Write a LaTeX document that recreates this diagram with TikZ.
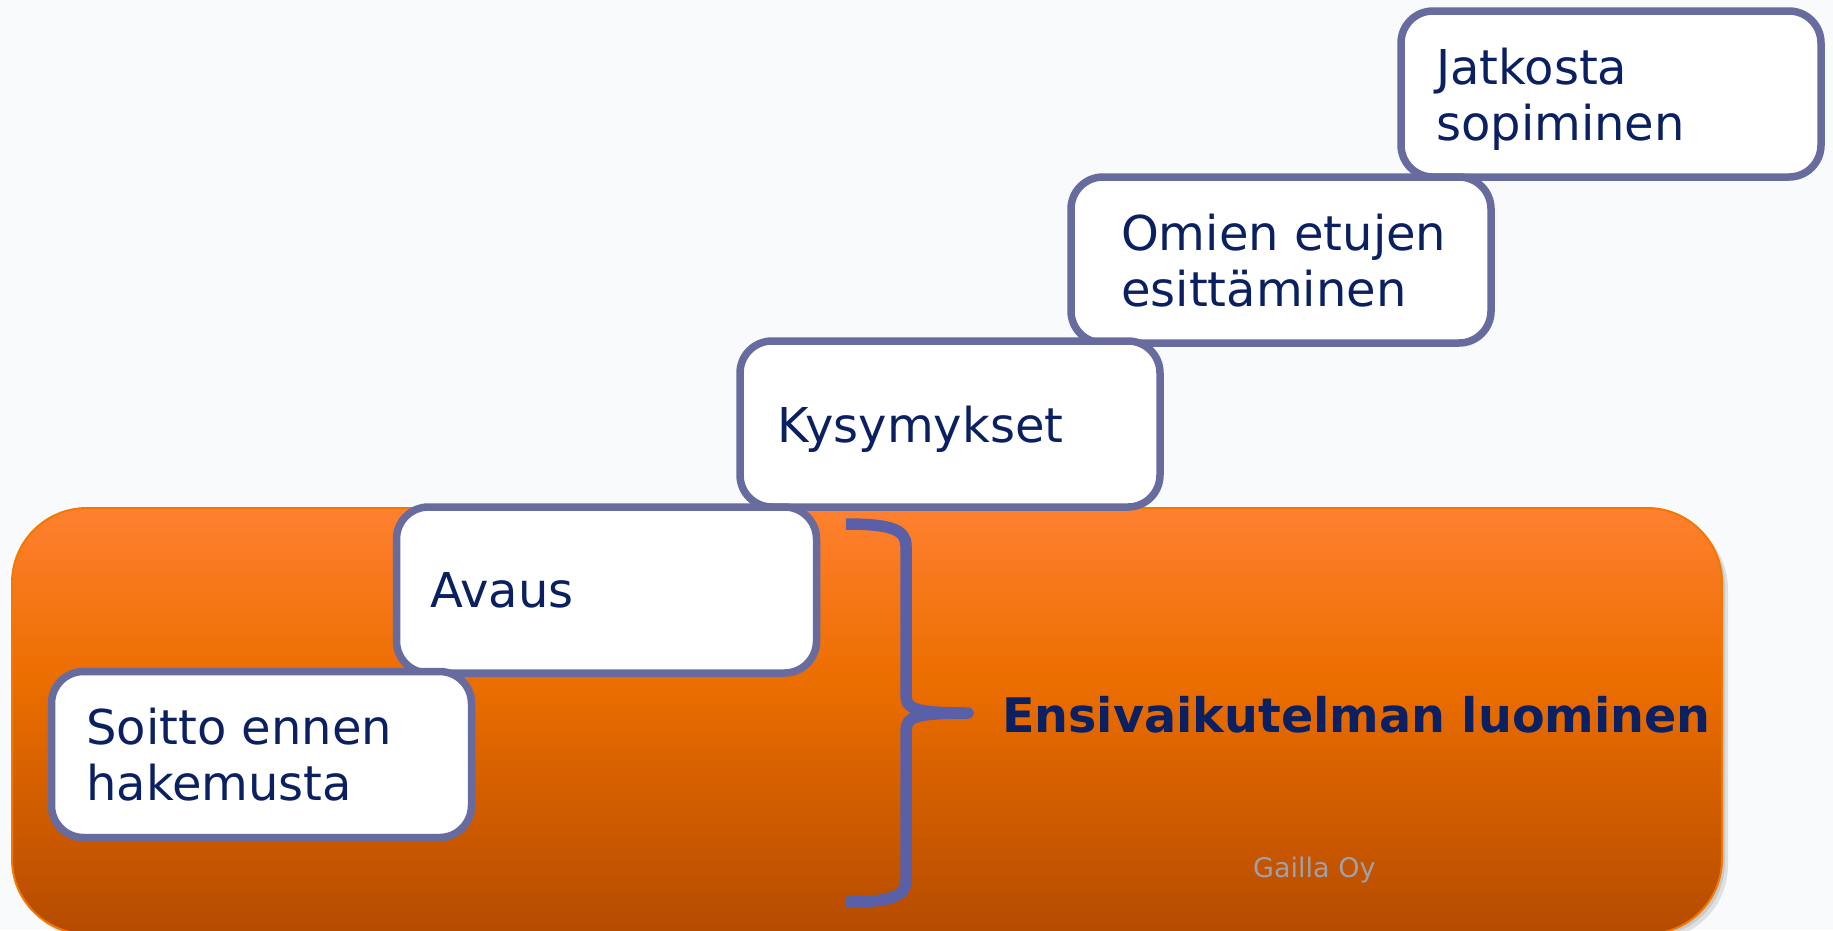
\documentclass[tikz,border=0pt]{standalone}
\usepackage{fontspec}
\setmainfont{DejaVu Sans}
\definecolor{bgc}{HTML}{F9FAFC}
\definecolor{boxline}{HTML}{686B9D}
\definecolor{bracec}{HTML}{5A60A8}
\definecolor{navy}{HTML}{0A2060}
\definecolor{otop}{HTML}{FF802F}
\definecolor{omid}{HTML}{EC6E00}
\definecolor{obot}{HTML}{B54B00}
\definecolor{oedge}{HTML}{F27800}
\definecolor{credit}{HTML}{A0A0A6}
\pgfdeclareverticalshading{orgrad}{100bp}{color(0bp)=(obot); color(25bp)=(obot); color(55bp)=(omid); color(75bp)=(otop); color(100bp)=(otop)}
\begin{document}
\begin{tikzpicture}[x=1pt,y=-1pt,
  stepbox/.style={draw=boxline, line width=7.5pt, fill=white, rounded corners=32pt,
    minimum width=420pt, minimum height=166pt, inner sep=0pt},
  lbl/.style={anchor=west, inner sep=0pt, align=left, text=navy,
    font=\fontsize{48}{55.7}\selectfont, text depth=0pt},
  panelstyle/.style={draw=oedge, line width=2pt, rounded corners=75pt, shading=orgrad,
    minimum width=1710pt, minimum height=426pt, inner sep=0pt},
  shadowstyle/.style={fill=black, opacity=0.10, rounded corners=75pt,
    minimum width=1710pt, minimum height=426pt, inner sep=0pt},
  bracestyle/.style={draw=bracec, line width=11.5pt, line cap=butt, line join=round}
]
\useasboundingbox (0,0) rectangle (1833,930);
\fill[bgc] (0,0) rectangle (1833,930);
% shadow and orange panel
\node[shadowstyle] (shadowa) at (873,727) {};
\node[shadowstyle] (shadowb) at (870,724) {};
\node[panelstyle] (panel) at (867,721) {};
% step boxes
\node[stepbox] (jatkosta) at (1611,94) {};
\node[stepbox] (omien) at (1281,260) {};
\node[stepbox] (kys) at (950,424) {};
\node[stepbox] (avaus) at (606.5,590) {};
\node[stepbox] (soitto) at (261.5,754.5) {};
% labels
\node[lbl] (tjatkosta) at (1436,94) {Jatkosta\\sopiminen};
\node[lbl] (tomien) at (1121,260) {Omien etujen\\esittäminen};
\node[lbl] (tkys) at (777,424) {Kysymykset};
\node[lbl] (tavaus) at (430,590) {Avaus};
\node[lbl] (tsoitto) at (86,754.5) {Soitto ennen\\hakemusta};
% brace
\coordinate (btop) at (846,524);
\coordinate (btip) at (968,713);
\coordinate (bbot) at (846,902);
\draw[bracestyle] (btop) .. controls (892,524) and (906,530) .. (906,546)
  -- (906,696) .. controls (906,709) and (916,713) .. (btip)
  .. controls (916,713) and (906,717) .. (906,730)
  -- (906,880) .. controls (906,896) and (892,902) .. (bbot);
% title and credit
\node[anchor=base west, inner sep=0pt, text=navy, font=\bfseries\fontsize{47.6}{56}\selectfont]
  (title) at (1002,732) {Ensivaikutelman luominen};
\node[anchor=base west, inner sep=0pt, text=credit, font=\fontsize{27}{32}\selectfont]
  (gailla) at (1253,877) {Gailla Oy};
\end{tikzpicture}
\end{document}
